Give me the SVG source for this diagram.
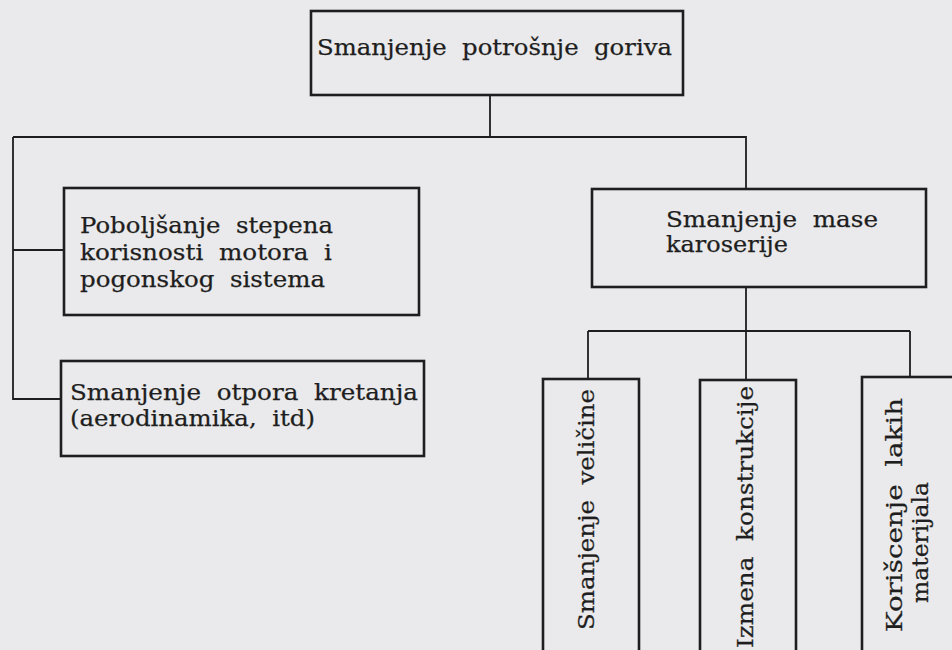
<svg xmlns="http://www.w3.org/2000/svg" width="952" height="650" viewBox="0 0 952 650">
<style>
.bg{fill:#eaeaec}
.box{fill:none;stroke:#1e1e20;stroke-width:2.6}
.con{fill:none;stroke:#1e1e20;stroke-width:1.8}
text{font-family:"DejaVu Serif","Liberation Serif",serif;font-size:23px;fill:#1e1e20;white-space:pre;stroke:#1e1e20;stroke-width:0.25}
</style>
<rect class="bg" x="0" y="0" width="952" height="650"/>
<g id="connectors">
<path class="con" d="M490,95 V137 M13,137 H746 V189 M13,137 V399 H61 M13,250 H64 M746,287 V380 M588,331 H910 M588,331 V379 M910,331 V377"/>
</g>
<g id="n-root">
<rect class="box" x="311" y="11" width="372" height="84"/>
<text x="317" y="55" textLength="355" lengthAdjust="spacingAndGlyphs">Smanjenje  potrošnje  goriva</text>
</g>
<g id="n-motor">
<rect class="box" x="64" y="188" width="355" height="127"/>
<text x="80" y="233" textLength="253" lengthAdjust="spacingAndGlyphs">Poboljšanje  stepena</text>
<text x="80" y="260" textLength="252" lengthAdjust="spacingAndGlyphs">korisnosti  motora  i</text>
<text x="80" y="287" textLength="245" lengthAdjust="spacingAndGlyphs">pogonskog  sistema</text>
</g>
<g id="n-otpor">
<rect class="box" x="61" y="361" width="363" height="95"/>
<text x="70" y="400" textLength="348" lengthAdjust="spacingAndGlyphs">Smanjenje  otpora  kretanja</text>
<text x="70" y="426" textLength="245" lengthAdjust="spacingAndGlyphs">(aerodinamika,  itd)</text>
</g>
<g id="n-masa">
<rect class="box" x="592" y="189" width="334" height="98"/>
<text x="666" y="227" textLength="212" lengthAdjust="spacingAndGlyphs">Smanjenje  mase</text>
<text x="666" y="252" textLength="122" lengthAdjust="spacingAndGlyphs">karoserije</text>
</g>
<g id="n-velicina">
<rect class="box" x="543" y="379" width="96" height="290"/>
<text transform="translate(594,630) rotate(-90)" x="0" y="0" textLength="241" lengthAdjust="spacingAndGlyphs">Smanjenje  veličine</text>
</g>
<g id="n-konstrukcija">
<rect class="box" x="700" y="380" width="96" height="290"/>
<text transform="translate(753,648) rotate(-90)" x="0" y="0" textLength="262" lengthAdjust="spacingAndGlyphs">Izmena  konstrukcije</text>
</g>
<g id="n-materijali">
<rect class="box" x="862" y="377" width="100" height="290"/>
<text transform="translate(902,632) rotate(-90)" x="0" y="0" textLength="234" lengthAdjust="spacingAndGlyphs">Korišcenje  lakih</text>
<text transform="translate(928,603) rotate(-90)" x="0" y="0" textLength="121" lengthAdjust="spacingAndGlyphs">materijala</text>
</g>
</svg>
